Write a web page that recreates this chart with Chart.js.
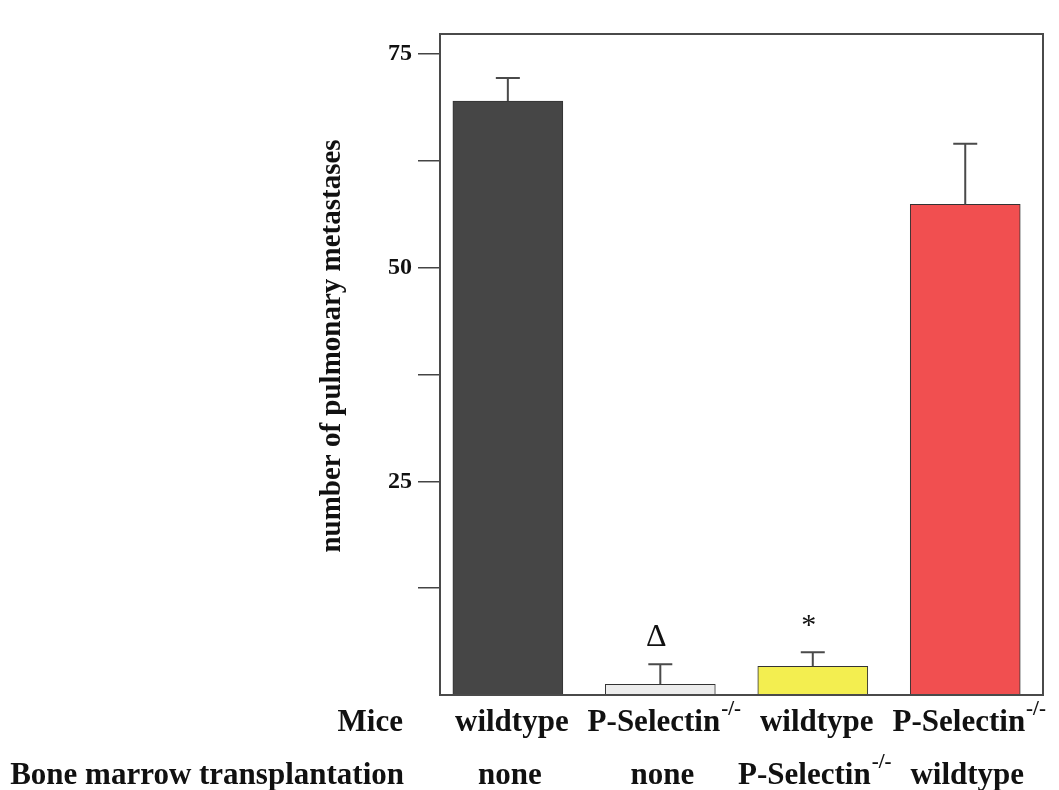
<!DOCTYPE html>
<html>
<head>
<meta charset="utf-8">
<script src="https://cdn.jsdelivr.net/npm/chart.js@4"></script>
<style>
  html, body { margin: 0; padding: 0; background: #fff; }
  #wrap { width: 1059px; height: 790px; }
</style>
</head>
<body>
<div id="wrap"><canvas id="chart"></canvas></div>
<script>
// Chart data
const groups = [0, 1, 2, 3];
const miceLabels = [["wildtype", ""], ["P-Selectin", "-/-"], ["wildtype", ""], ["P-Selectin", "-/-"]];
const marrowLabels = [["none", ""], ["none", ""], ["P-Selectin", "-/-"], ["wildtype", ""]];
const rowTitles = ["Mice", "Bone marrow transplantation"];
const meanValues = [69.5, 1.25, 3.35, 57.4];
const errorTops = [72.2, 3.6, 5.0, 64.5];
const significance = ["", "\u0394", "*", ""];
const tickValues = [12.5, 25, 37.5, 50, 62.5, 75];
const labelledTicks = [25, 50, 75];
const yTitle = "number of pulmonary metastases";

const barColors = ["#464646", "#ececec", "#f3ee50", "#f14f50"];
const serif = "'Liberation Serif', 'Times New Roman', serif";

// draw a label with an optional superscript, centred on cx
function drawLabel(ctx, main, sup, cx, baseline) {
    ctx.font = "bold 31px " + serif;
    const w1 = ctx.measureText(main).width;
    ctx.font = "bold 21px " + serif;
    const w2 = sup ? ctx.measureText(sup).width + 1 : 0;
    const start = cx - (w1 + w2) / 2;
    ctx.textAlign = "left";
    ctx.font = "bold 31px " + serif;
    ctx.fillText(main, start, baseline);
    if (sup) {
        ctx.font = "bold 21px " + serif;
        ctx.fillText(sup, start + w1 + 1, baseline - 16);
    }
}

const extrasPlugin = {
    id: "extras",
    afterDraw(chart) {
        const ctx = chart.ctx;
        const area = chart.chartArea;
        const yScale = chart.scales.y;
        const bars = chart.getDatasetMeta(0).data;
        ctx.save();

        // frame round the plot
        ctx.strokeStyle = "#4a4a4a";
        ctx.lineWidth = 2;
        ctx.strokeRect(area.left, area.top, area.right - area.left, area.bottom - area.top);

        // error bars
        ctx.lineWidth = 2;
        bars.forEach((bar, i) => {
            const yTop = yScale.getPixelForValue(errorTops[i]);
            ctx.beginPath();
            ctx.moveTo(bar.x, bar.y);
            ctx.lineTo(bar.x, yTop);
            ctx.moveTo(bar.x - 12, yTop);
            ctx.lineTo(bar.x + 12, yTop);
            ctx.stroke();
        });

        // significance marks
        ctx.fillStyle = "#111";
        ctx.textAlign = "center";
        ctx.textBaseline = "alphabetic";
        bars.forEach((bar, i) => {
            if (!significance[i]) return;
            ctx.font = (significance[i] === "*" ? "30px " : "32px ") + serif;
            const yTop = yScale.getPixelForValue(errorTops[i]);
            ctx.fillText(significance[i], bar.x - 4, yTop - 18);
        });

        // y axis title
        ctx.save();
        ctx.translate(333, 346);
        ctx.rotate(-Math.PI / 2);
        ctx.font = "bold 29px " + serif;
        ctx.textAlign = "center";
        ctx.textBaseline = "middle";
        ctx.fillText(yTitle, 0, 0);
        ctx.restore();

        // x labels in two rows
        ctx.fillStyle = "#111";
        ctx.font = "bold 31px " + serif;
        ctx.textAlign = "right";
        ctx.fillText(rowTitles[0], 403, 731);
        ctx.fillText(rowTitles[1], 404, 784);
        bars.forEach((bar, i) => {
            drawLabel(ctx, miceLabels[i][0], miceLabels[i][1], bar.x + 4, 731);
            drawLabel(ctx, marrowLabels[i][0], marrowLabels[i][1], bar.x + 2, 784);
        });

        ctx.restore();
    }
};

new Chart(document.getElementById("chart"), {
    type: "bar",
    data: {
        datasets: [{
            data: groups.map((g, i) => ({ x: g, y: meanValues[i] })),
            backgroundColor: barColors,
            borderColor: "#333",
            borderWidth: 1,
            barThickness: 110,
        }],
    },
    options: {
        responsive: true,
        maintainAspectRatio: false,
        animation: false,
        layout: { padding: { left: 0, top: 34, right: 16, bottom: 95 } },
        plugins: { legend: { display: false }, tooltip: { enabled: false } },
        scales: {
            x: { type: "linear", display: false, offset: false, min: -0.445, max: 3.51 },
            y: {
                min: 0,
                max: 77.34,
                afterBuildTicks: scale => { scale.ticks = tickValues.map(v => ({ value: v })); },
                afterFit: scale => { scale.width = 440; },
                border: { display: false },
                grid: { drawOnChartArea: false, drawTicks: true, tickLength: 22, color: "#444", lineWidth: 1.5 },
                ticks: {
                    padding: 6,
                    color: "#111",
                    font: { family: serif, size: 24, weight: "bold" },
                    callback: v => labelledTicks.includes(v) ? String(v) : "",
                },
            },
        },
    },
    plugins: [extrasPlugin],
});
</script>
</body>
</html>
